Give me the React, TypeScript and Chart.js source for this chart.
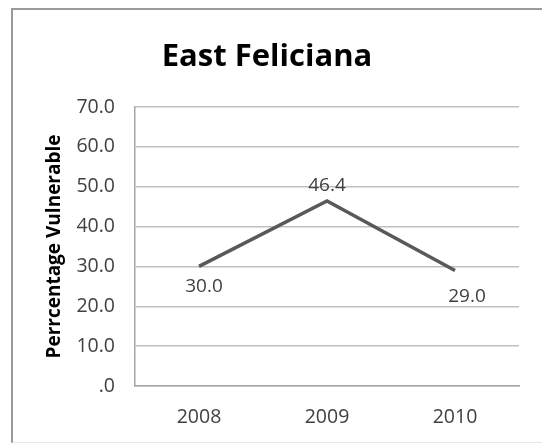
import React, { useEffect, useRef } from "react";
import { Chart, registerables } from "chart.js";

Chart.register(...registerables);

const categories = ["2008", "2009", "2010"];
const values = [30.0, 46.4, 29.0];
const yTicks = [0, 10, 20, 30, 40, 50, 60, 70];
const chartTitle = "East Feliciana";
const yAxisTitle = "Perrcentage Vulnerable";

const FONT = "'Open Sans', 'Liberation Sans', sans-serif";

const labelPlugin = {
  id: "pointLabels",
  afterDatasetsDraw(chart: any) {
    const ctx = chart.ctx;
    const meta = chart.getDatasetMeta(0);
    const offs = [
      [5, 20],
      [0, -15],
      [12, 26],
    ];
    ctx.save();
    ctx.font = `19px ${FONT}`;
    ctx.fillStyle = "#404040";
    ctx.textAlign = "center";
    ctx.textBaseline = "middle";
    meta.data.forEach((pt: any, i: number) => {
      const v = values[i];
      const txt = v === 0 ? ".0" : v.toFixed(1);
      ctx.fillText(txt, pt.x + offs[i][0], pt.y + offs[i][1]);
    });
    ctx.restore();
  },
};

const titlePlugin = {
  id: "customTitle",
  afterDraw(chart: any) {
    const ctx = chart.ctx;
    ctx.save();
    ctx.font = `bold 31px ${FONT}`;
    ctx.fillStyle = "#000000";
    ctx.textAlign = "center";
    ctx.textBaseline = "middle";
    ctx.fillText(chartTitle, 267, 57);
    ctx.restore();
  },
};

export default function App() {
  const ref = useRef<HTMLCanvasElement>(null);
  useEffect(() => {
    if (!ref.current) return;
    const chart = new Chart(ref.current, {
      type: "line",
      data: {
        labels: categories,
        datasets: [
          {
            data: values,
            borderColor: "#595959",
            borderWidth: 3.5,
            pointRadius: 0,
            tension: 0,
            fill: false,
          },
        ],
      },
      options: {
        animation: false,
        responsive: false,
        devicePixelRatio: 1,
        layout: { padding: { top: 107, right: 23, bottom: 0, left: 0 } },
        plugins: {
          legend: { display: false },
          tooltip: { enabled: false },
          title: { display: false },
        },
        scales: {
          x: {
            type: "category",
            offset: true,
            grid: { display: false, drawTicks: false },
            border: { display: true, color: "#a6a6a6", width: 1.5 },
            ticks: {
              color: "#404040",
              font: { family: FONT, size: 19.5 },
              padding: 20,
              maxRotation: 0,
            },
            afterFit: (s: any) => {
              s.height = 57;
            },
          },
          y: {
            type: "linear",
            min: 0,
            max: 70,
            afterBuildTicks: (s: any) => {
              s.ticks = yTicks.map((v) => ({ value: v }));
            },
            grid: { color: "#bfbfbf", lineWidth: 1.5, drawTicks: false },
            border: { display: true, color: "#a6a6a6", width: 1.5 },
            ticks: {
              color: "#404040",
              font: { family: FONT, size: 19.5 },
              padding: 20,
              callback: (v: any) => (Number(v) === 0 ? ".0" : Number(v).toFixed(1)),
            },
            title: {
              display: true,
              text: yAxisTitle,
              color: "#000000",
              font: { family: FONT, size: 19, weight: "bold" },
              padding: { top: 43, bottom: 0 },
            },
            afterFit: (s: any) => {
              s.width = 135;
            },
          },
        },
      },
      plugins: [labelPlugin, titlePlugin],
    });
    return () => chart.destroy();
  }, []);

  return (
    <div style={{ position: "fixed", left: 0, top: 0, width: 542, height: 443, background: "#fff" }}>
      <div
        style={{
          position: "absolute",
          left: 11,
          top: 8,
          width: 529,
          height: 432,
          borderLeft: "2px solid #9a9a9a",
          borderTop: "2px solid #9a9a9a",
          borderRight: "1px solid #e6e6e6",
          borderBottom: "1px solid #e6e6e6",
        }}
      />
      <canvas
        ref={ref}
        width={542}
        height={443}
        style={{ position: "absolute", left: 0, top: 0, width: 542, height: 443 }}
      />
    </div>
  );
}
